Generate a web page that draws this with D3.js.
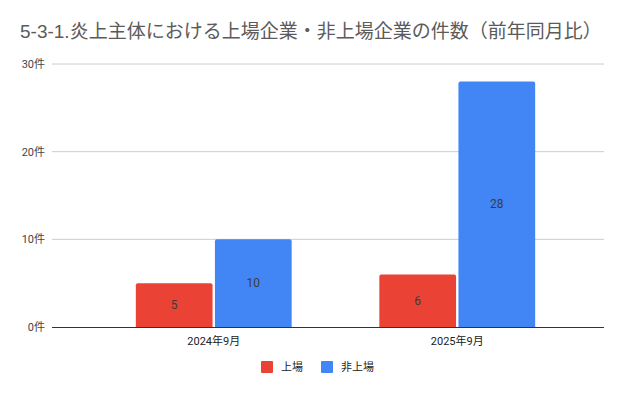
<!DOCTYPE html>
<html>
<head>
<meta charset="utf-8">
<script src="https://cdn.jsdelivr.net/npm/d3@7"></script>
<style>
  body { margin: 0; background: #fff; }
  svg { font-family: Roboto, "Noto Sans CJK JP", sans-serif; }
</style>
</head>
<body>
<div id="chart"></div>
<script>
const width = 638;
const height = 395;

// data
const categories = ["2024年9月", "2025年9月"];
const seriesNames = ["上場", "非上場"];
const listed = [5, 6];
const unlisted = [10, 28];
const yTicks = [0, 10, 20, 30];
const colors = ["#ea4335", "#4285f4"];

const svg = d3.select("#chart")
  .append("svg")
  .attr("width", width)
  .attr("height", height);

svg.append("text")
  .attr("x", 20)
  .attr("y", 38)
  .attr("font-size", 19)
  .attr("font-family", "'Liberation Sans', 'Noto Sans CJK JP', sans-serif")
  .attr("fill", "#5b5b5b")
  .text("5-3-1.炎上主体における上場企業・非上場企業の件数（前年同月比）");

const plotLeft = 52, plotRight = 604, plotTop = 64, plotBottom = 327;

const y = d3.scaleLinear().domain([0, 30]).range([plotBottom, plotTop]);
const x = d3.scaleBand().domain(categories).range([92, 579])
  .paddingInner(0.36).paddingOuter(0.18);
const xs = d3.scaleBand().domain(seriesNames).range([0, x.bandwidth()]).paddingInner(0.03);

// gridlines
svg.append("g")
  .selectAll("line")
  .data(yTicks.filter(d => d !== 0))
  .enter()
  .append("line")
  .attr("x1", plotLeft)
  .attr("x2", plotRight)
  .attr("y1", d => y(d))
  .attr("y2", d => y(d))
  .attr("stroke", "#cccccc")
  .attr("stroke-width", 1);

svg.append("g")
  .selectAll("text")
  .data(yTicks)
  .enter()
  .append("text")
  .attr("x", 45)
  .attr("y", d => y(d) + 4)
  .attr("text-anchor", "end")
  .attr("font-size", 11)
  .attr("fill", "#444")
  .text(d => d + "件");

// bars
const rows = categories.map((c, i) => [
  { cat: c, name: seriesNames[0], value: listed[i], color: colors[0] },
  { cat: c, name: seriesNames[1], value: unlisted[i], color: colors[1] }
]).flat();

function barPath(x0, y0, w, h, r) {
  return `M${x0},${y0 + h}V${y0 + r}Q${x0},${y0} ${x0 + r},${y0}H${x0 + w - r}Q${x0 + w},${y0} ${x0 + w},${y0 + r}V${y0 + h}Z`;
}

const bar = svg.append("g")
  .selectAll("g")
  .data(rows)
  .enter()
  .append("g");

bar.append("path")
  .attr("d", d => {
    const bx = x(d.cat) + xs(d.name);
    return barPath(bx, y(d.value), xs.bandwidth(), plotBottom - y(d.value), 2);
  })
  .attr("fill", d => d.color);

bar.append("text")
  .attr("x", d => x(d.cat) + xs(d.name) + xs.bandwidth() / 2)
  .attr("y", d => (y(d.value) + plotBottom) / 2 + 4)
  .attr("text-anchor", "middle")
  .attr("font-size", 12)
  .attr("fill", "#3c3c3c")
  .text(d => d.value);

// baseline
svg.append("line")
  .attr("x1", plotLeft)
  .attr("x2", plotRight)
  .attr("y1", plotBottom + 0.5)
  .attr("y2", plotBottom + 0.5)
  .attr("stroke", "#333")
  .attr("stroke-width", 1);

svg.append("g")
  .selectAll("text")
  .data(categories)
  .enter()
  .append("text")
  .attr("x", d => x(d) + x.bandwidth() / 2)
  .attr("y", 345)
  .attr("text-anchor", "middle")
  .attr("font-size", 11)
  .attr("fill", "#222")
  .text(d => d);

// legend
const legendX = [261, 321];
const legend = svg.append("g")
  .selectAll("g")
  .data(seriesNames)
  .enter()
  .append("g")
  .attr("transform", (d, i) => `translate(${legendX[i]},361)`);

legend.append("rect")
  .attr("width", 12)
  .attr("height", 12)
  .attr("rx", 1)
  .attr("fill", (d, i) => colors[i]);

legend.append("text")
  .attr("x", 20)
  .attr("y", 10)
  .attr("font-size", 11)
  .attr("fill", "#222")
  .text(d => d);
</script>
</body>
</html>
